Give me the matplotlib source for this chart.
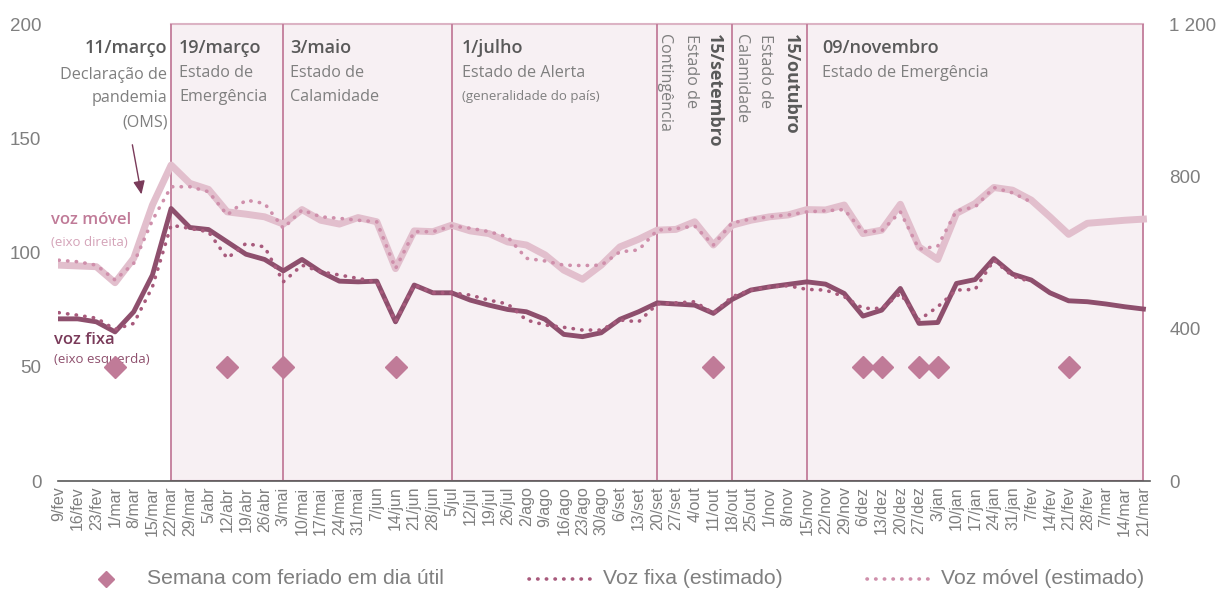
import numpy as np
import matplotlib
matplotlib.use('Agg')
import matplotlib.pyplot as plt
from matplotlib.lines import Line2D

plt.rcParams['font.family'] = ['Liberation Sans', 'DejaVu Sans']

# weekly labels
weeks = ['9/fev', '16/fev', '23/fev', '1/mar', '8/mar', '15/mar', '22/mar', '29/mar',
         '5/abr', '12/abr', '19/abr', '26/abr', '3/mai', '10/mai', '17/mai', '24/mai',
         '31/mai', '7/jun', '14/jun', '21/jun', '28/jun', '5/jul', '12/jul', '19/jul',
         '26/jul', '2/ago', '9/ago', '16/ago', '23/ago', '30/ago', '6/set', '13/set',
         '20/set', '27/set', '4/out', '11/out', '18/out', '25/out', '1/nov', '8/nov',
         '15/nov', '22/nov', '29/nov', '6/dez', '13/dez', '20/dez', '27/dez', '3/jan',
         '10/jan', '17/jan', '24/jan', '31/jan', '7/fev', '14/fev', '21/fev', '28/fev',
         '7/mar', '14/mar', '21/mar']

# voz fixa (left axis)
voz_fixa = [71.0, 71.0, 69.7, 65.3, 74.1, 90.2, 119.3, 111.0, 110.1, 104.7, 99.3, 97.0,
            92.0, 97.0, 91.6, 87.5, 87.2, 87.5, 69.7, 85.8, 82.4, 82.4, 79.2, 77.0,
            75.1, 74.1, 70.8, 64.2, 63.2, 64.9, 70.8, 74.1, 78.0, 77.5, 77.0, 73.4,
            79.5, 83.6, 85.0, 86.1, 87.2, 86.2, 82.1, 72.2, 74.8, 84.3, 69.0, 69.4,
            86.5, 88.2, 97.4, 90.6, 88.0, 82.4, 78.9, 78.5, 77.5, 76.3, 75.3]
voz_fixa_est = [73.7, 72.6, 71.3, 66.4, 69.0, 85.0, 112.0, 110.6, 109.1, 97.5, 104.0, 102.5,
                87.2, 94.5, 91.6, 90.2, 88.7, 87.2, 69.7, 85.8, 82.4, 82.4, 81.4, 79.2,
                77.5, 70.5, 68.3, 67.3, 66.1, 66.1, 70.5, 69.7, 77.5, 78.0, 78.5, 73.4,
                80.7, 83.6, 85.0, 85.5, 83.9, 83.6, 80.7, 75.6, 75.6, 82.1, 70.5, 76.3,
                83.6, 83.9, 96.7, 89.7, 87.2]

# voz movel (right axis)
voz_movel = [567, 565, 563, 521, 585, 725, 830, 782, 766, 707, 701, 694,
             675, 713, 685, 675, 692, 681, 558, 657, 655, 672, 657, 650,
             628, 620, 594, 554, 530, 567, 615, 635, 659, 661, 681, 620,
             672, 685, 694, 699, 713, 712, 725, 650, 659, 727, 615, 582,
             703, 729, 771, 764, 738, 694, 648, 677, 681, 685, 688]
voz_movel_est = [580, 576, 567, 528, 572, 685, 773, 773, 760, 699, 738, 729,
                 664, 712, 694, 690, 685, 681, 558, 655, 655, 670, 664, 655,
                 641, 585, 578, 567, 566, 567, 602, 607, 659, 663, 670, 620,
                 678, 688, 694, 699, 707, 710, 713, 655, 657, 707, 609, 617,
                 710, 720, 771, 757, 733]

# weeks with a public holiday on a working day
feriado_idx = [3, 9, 12, 18, 35, 43, 44, 46, 47, 54]
feriado_val = 50

# phases (start index of each shaded block)
phase_edges = [6, 12, 21, 32, 36, 40, 58]

legend_labels = ['Semana com feriado em dia útil', 'Voz fixa (estimado)',
                 'Voz móvel (estimado)']

c_fixa = '#8e4f6d'
c_movel = '#e2bfcd'
c_dot_fixa = '#a85a7c'
c_dot_movel = '#cf8fab'
c_diam = '#c07b98'
c_vline = '#c27c9a'
c_shade = '#f7f0f3'
c_grey = '#7f7f7f'
c_dark = '#595959'
dots = (0, (0.1, 2.3))

x = np.arange(len(weeks))

fig = plt.figure(figsize=(12.16, 5.90), dpi=100)
ax = fig.add_axes([0.0477, 0.1847, 0.898, 0.7743])
ax2 = ax.twinx()

ax.set_xlim(-0.05, 58.35)
ax.set_ylim(0, 200)
ax2.set_ylim(0, 1200)

# shaded phases
for a, b in zip(phase_edges[:-1], phase_edges[1:]):
    ax.fill_between([a, b], 0, 200, color=c_shade, lw=0, zorder=0)
    ax.plot([a, b], [200, 200], color='#dcb3c4', lw=1.5, zorder=1, clip_on=False)
for e in phase_edges:
    ax.axvline(e, color=c_vline, lw=1.3, zorder=1)
ax.plot([phase_edges[0], phase_edges[-1]], [0, 0], color=c_vline, lw=1.5, zorder=1)

# lines
ax2.plot(x, voz_movel, color=c_movel, lw=5, zorder=3)
ax2.plot(x[:len(voz_movel_est)], voz_movel_est, color=c_dot_movel, lw=2.6,
         linestyle=dots, dash_capstyle='round', zorder=4)
ax.plot(x, voz_fixa, color=c_fixa, lw=3.5, zorder=3)
ax.plot(x[:len(voz_fixa_est)], voz_fixa_est, color=c_dot_fixa, lw=2.6,
        linestyle=dots, dash_capstyle='round', zorder=4)

ax.plot(x[feriado_idx], [feriado_val] * len(feriado_idx), linestyle='none',
        marker='D', ms=11.5, color=c_diam, zorder=5)

# axes styling
for sp in ['top', 'left', 'right']:
    ax.spines[sp].set_visible(False)
    ax2.spines[sp].set_visible(False)
ax2.spines['bottom'].set_visible(False)
ax.spines['bottom'].set_color(c_dark)
ax.spines['bottom'].set_linewidth(1.2)
ax.set_xticks(x)
ax.set_xticklabels(weeks, rotation=90, fontsize=11.5, color=c_grey)
ax.tick_params(axis='x', length=0, pad=4)
ax.set_yticks([0, 50, 100, 150, 200])
ax.tick_params(axis='y', length=0, labelsize=13.5, labelcolor=c_grey, pad=12)
ax2.set_yticks([0, 400, 800, 1200])
ax2.set_yticklabels(['0', '400', '800', '1 200'])
ax2.tick_params(axis='y', length=0, labelsize=13.5, labelcolor=c_grey, pad=14)

# annotations
hf = 'Open Sans'
ax.text(5.8, 189.5, '11/março', ha='right', va='center', fontsize=13,
        fontweight='semibold', color=c_dark, family=hf)
for yy, t in zip([177.7, 167.6, 157.1], ['Declaração de', 'pandemia', '(OMS)']):
    ax.text(5.8, yy, t, ha='right', va='center', fontsize=11.6, color=c_grey, family=hf)
ax.annotate('', xy=(4.44, 124.3), xytext=(3.9, 148.4),
            arrowprops=dict(arrowstyle='-|>,head_length=0.8,head_width=0.35',
                            color='#7a3b5a', lw=1))

heads = [(6.42, '19/março', ['Estado de', 'Emergência']),
         (12.36, '3/maio', ['Estado de', 'Calamidade']),
         (21.56, '1/julho', ['Estado de Alerta']),
         (40.82, '09/novembro', ['Estado de Emergência'])]
for xx, h, lines in heads:
    ax.text(xx, 189.5, h, ha='left', va='center', fontsize=13,
            fontweight='semibold', color=c_dark, family=hf)
    for k, t in enumerate(lines):
        ax.text(xx, 178.5 - 10.3 * k, t, ha='left', va='center', fontsize=11.6,
                color=c_grey, family=hf)
ax.text(21.56, 168.3, '(generalidade do país)', ha='left', va='center', fontsize=9.5,
        color=c_grey, family=hf)

# rotated texts
for xx, t, bold in [(32.37, 'Contingência', False), (33.8, 'Estado de', False),
                    (35.05, '15/setembro', True), (36.5, 'Calamidade', False),
                    (37.77, 'Estado de', False), (39.17, '15/outubro', True)]:
    ax.text(xx, 195.5, t, rotation=270, ha='center', va='top',
            fontsize=13 if bold else 11.6, fontweight='bold' if bold else 'normal',
            color=c_dark if bold else c_grey, family=hf)

# series labels
ax.text(-0.43, 114.2, 'voz móvel', ha='left', va='center', fontsize=12,
        fontweight='semibold', color='#c07b98', family=hf)
ax.text(-0.43, 104.6, '(eixo direita)', ha='left', va='center', fontsize=9.5,
        color='#d4a3b8', family=hf)
ax.text(-0.27, 61.7, 'voz fixa', ha='left', va='center', fontsize=12,
        fontweight='semibold', color='#7a3b5a', family=hf)
ax.text(-0.27, 53.0, '(eixo esquerda)', ha='left', va='center', fontsize=9.5,
        color=c_fixa, family=hf)

# legend, laid out by hand in figure pixels
W, H = 1216, 590
ly = 1 - 579 / H
fig.add_artist(Line2D([106 / W], [ly], linestyle='none', marker='D', ms=8,
                      color=c_diam, transform=fig.transFigure))
fig.add_artist(Line2D([529 / W, 595 / W], [ly, ly], color=c_dot_fixa, lw=2.6,
                      linestyle=dots, dash_capstyle='round', transform=fig.transFigure))
fig.add_artist(Line2D([867 / W, 933 / W], [ly, ly], color=c_dot_movel, lw=2.6,
                      linestyle=dots, dash_capstyle='round', transform=fig.transFigure))
for xp, t in zip([147, 603, 941], legend_labels):
    fig.text(xp / W, ly, t, ha='left', va='center', fontsize=15.2, color=c_grey)

fig.savefig('out.png', dpi=100)
print("Plot saved to out.png")
